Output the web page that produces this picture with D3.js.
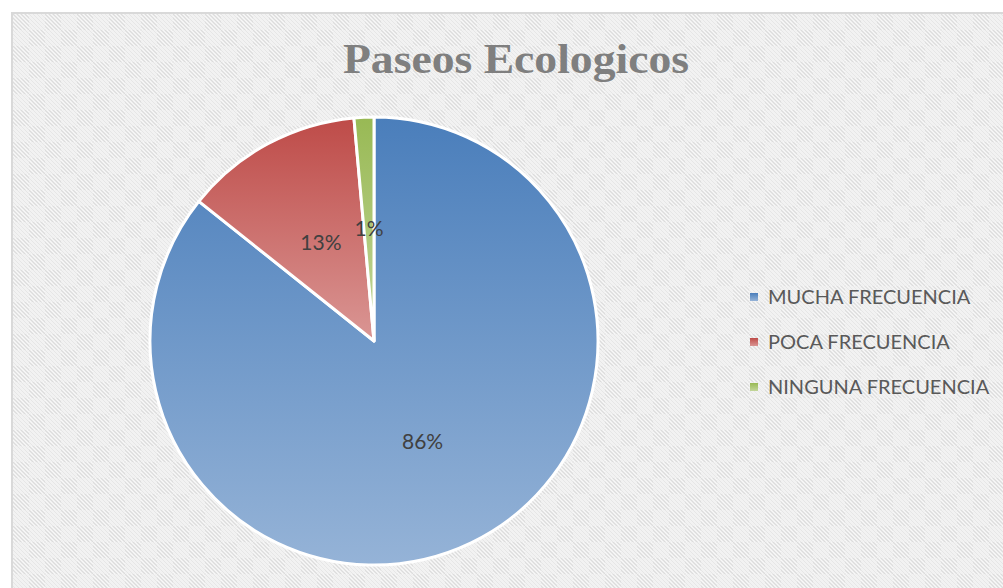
<!DOCTYPE html>
<html>
<head>
<meta charset="utf-8">
<script src="https://cdn.jsdelivr.net/npm/d3@7"></script>
<style>
html,body{margin:0;padding:0;background:#fff;}
svg{display:block;}
</style>
</head>
<body>
<svg id="chart" width="1003" height="588"></svg>
<script>
const title = "Paseos Ecologicos";
const categories = ["MUCHA FRECUENCIA", "POCA FRECUENCIA", "NINGUNA FRECUENCIA"];
const values = [60, 9, 1];
const percentLabels = ["86%", "13%", "1%"];
const colorsTop = ["#4a7ebb", "#be4b48", "#98b954"];
const colorsBottom = ["#95b3d7", "#da9694", "#c3d69b"];

const svg = d3.select("#chart");
const W = 1003, H = 588;
const defs = svg.append("defs");

// background hatch pattern
const pat = defs.append("pattern").attr("id", "hatch").attr("patternUnits", "userSpaceOnUse")
  .attr("width", 32).attr("height", 32).attr("x", 13).attr("y", 14);
pat.append("rect").attr("width", 32).attr("height", 32).attr("fill", "#f5f5f5");
const cellPat = defs.append("pattern").attr("id", "stripe").attr("patternUnits", "userSpaceOnUse")
  .attr("width", 4).attr("height", 4);
cellPat.append("rect").attr("width", 4).attr("height", 4).attr("fill", "#f8f8f8");
cellPat.append("path").attr("d", "M-1,-1 L5,5 M-1,3 L1,5 M3,-1 L5,1").attr("stroke", "#dcdcdc").attr("stroke-width", 1.3);
[[0,0],[16,16]].forEach(([x,y]) => pat.append("rect").attr("x", x).attr("y", y).attr("width", 16).attr("height", 16).attr("fill", "url(#stripe)"));
const cellPat2 = defs.append("pattern").attr("id", "stripe2").attr("patternUnits", "userSpaceOnUse")
  .attr("width", 4).attr("height", 4);
cellPat2.append("rect").attr("width", 4).attr("height", 4).attr("fill", "#f2f2f2");
cellPat2.append("path").attr("d", "M-1,-1 L5,5 M-1,3 L1,5 M3,-1 L5,1").attr("stroke", "#e6e6e6").attr("stroke-width", 1);
[[16,0],[0,16]].forEach(([x,y]) => pat.append("rect").attr("x", x).attr("y", y).attr("width", 16).attr("height", 16).attr("fill", "url(#stripe2)"));

svg.append("rect").attr("x", 12).attr("y", 13).attr("width", W).attr("height", H)
  .attr("fill", "url(#hatch)").attr("stroke", "#d9d9d9").attr("stroke-width", 2);

// title
svg.append("text").attr("x", 516).attr("y", 73).attr("text-anchor", "middle")
  .attr("font-family", "'Liberation Serif', 'DejaVu Serif', serif").attr("font-weight", "bold")
  .attr("font-size", 42).attr("fill", "#7f7f7f").attr("textLength", 346).attr("lengthAdjust", "spacingAndGlyphs")
  .text(title);

// gradients
categories.forEach((c, i) => {
  const g = defs.append("linearGradient").attr("id", "grad" + i).attr("x1", 0).attr("y1", 0).attr("x2", 0).attr("y2", 1);
  g.append("stop").attr("offset", "0%").attr("stop-color", colorsTop[i]);
  g.append("stop").attr("offset", "100%").attr("stop-color", colorsBottom[i]);
});

const cx = 374, cy = 341, R = 224;
const pie = d3.pie().sort(null).value(d => d)(values);
const arc = d3.arc().innerRadius(0).outerRadius(R);
const gPie = svg.append("g").attr("transform", `translate(${cx},${cy})`);
gPie.selectAll("path").data(pie).join("path")
  .attr("d", arc).attr("fill", (d, i) => `url(#grad${i})`)
  .attr("stroke", "#fff").attr("stroke-width", 3).attr("stroke-linejoin", "round");

// labels at half radius
const labelArc = d3.arc().innerRadius(R * 0.5).outerRadius(R * 0.5);
gPie.selectAll("text").data(pie).join("text")
  .attr("transform", d => `translate(${labelArc.centroid(d)})`)
  .attr("text-anchor", "middle").attr("dy", "0.35em")
  .attr("font-family", "Lato, 'Open Sans', sans-serif").attr("font-size", 21).attr("fill", "#404040")
  .text((d, i) => percentLabels[i]);

// legend
const leg = svg.append("g");
categories.forEach((c, i) => {
  const y = 297 + i * 45;
  leg.append("rect").attr("x", 750).attr("y", y - 4).attr("width", 8).attr("height", 8)
    .attr("fill", `url(#grad${i})`);
  leg.append("text").attr("x", 768).attr("y", y + 7)
    .attr("font-family", "Lato, 'Open Sans', sans-serif").attr("font-size", 20).attr("fill", "#595959")
    .text(c);
});
</script>
</body>
</html>
